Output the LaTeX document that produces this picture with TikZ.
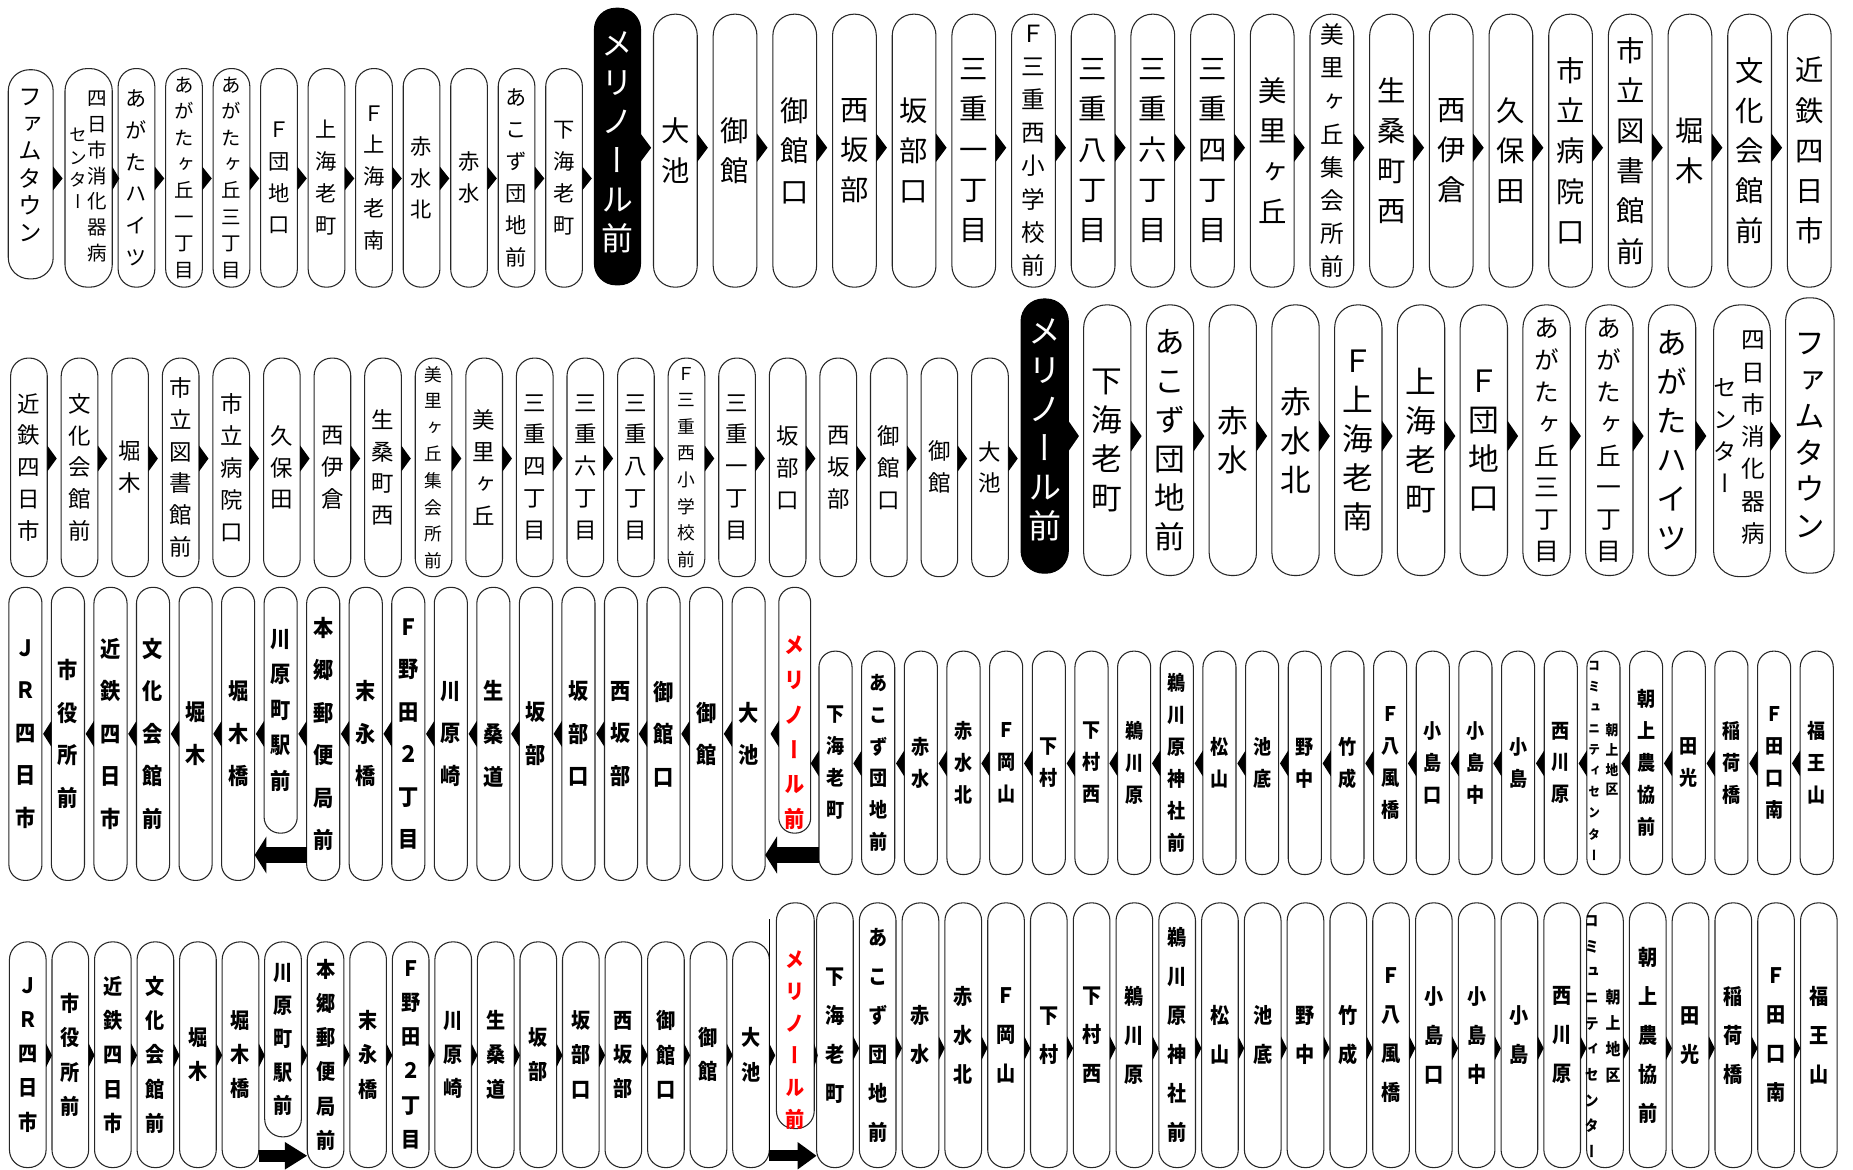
\documentclass[tikz,border=0pt]{standalone}
\usepackage{fontspec}
\usetikzlibrary{arrows.meta}
\newfontfamily\jp[RawFeature=+vert]{Noto Sans CJK JP}
\newfontfamily\jpb[RawFeature=+vert,FakeStretch=0.9]{Noto Sans CJK JP}
\makeatletter
\newcommand\VTT[1]{\vbox{\lineskiplimit=-1000pt\lineskip=0pt\@tfor\VT@c:=#1\do{\hbox to 0pt{\hss\VT@c\hss}}}}
\newcommand\VT[1]{\begingroup\edef\VTtmp{\endgroup\noexpand\VTT{#1}}\VTtmp}
\makeatother
\newcommand\TriR[4]{\fill (#1.east |- #2) ++(0,-#4) -- ++(#3,#4) -- ++(-#3,#4) -- cycle;}
\newcommand\TriL[4]{\fill (#1.west |- #2) ++(0,-#4) -- ++(-#3,#4) -- ++(#3,#4) -- cycle;}
\tikzset{
 stop/.style={draw=black!85,line width=0.9pt,fill=white,inner sep=0pt,outer sep=0pt},
 blk/.style={stop,fill=black,draw=black,text=white},
 txt/.style={inner sep=0pt,anchor=north},
 n/.style={},
 a1/.style={stop,minimum width=31pt,minimum height=185pt,rounded corners=15pt,font=\jp\fontsize{18}{27}\selectfont},
 s8c/.style={font=\jp\fontsize{16.5}{22.3}\selectfont},
 c1/.style={stop,minimum width=37pt,minimum height=231pt,rounded corners=18pt,font=\jp\fontsize{24}{34}\selectfont},
 s8a/.style={font=\jp\fontsize{20}{28}\selectfont},
 a2/.style={stop,minimum width=31pt,minimum height=185pt,rounded corners=15pt,font=\jp\fontsize{19}{27}\selectfont},
 s8b/.style={font=\jp\fontsize{15}{22.5}\selectfont},
 c2/.style={stop,minimum width=40pt,minimum height=229pt,rounded corners=19pt,font=\jp\fontsize{26}{33}\selectfont},
 s8d/.style={font=\jp\fontsize{21}{27}\selectfont},
 a3/.style={stop,minimum width=28pt,minimum height=248pt,rounded corners=13.5pt,font=\jpb\bfseries\fontsize{19}{36}\selectfont},
 k3/.style={minimum height=208pt,yshift=20pt,font=\jpb\bfseries\fontsize{19}{30}\selectfont},
 c3/.style={stop,minimum width=28pt,minimum height=189pt,rounded corners=13.5pt,font=\jpb\bfseries\fontsize{17}{27}\selectfont},
 a4/.style={stop,minimum width=31pt,minimum height=191pt,rounded corners=15pt,font=\jpb\bfseries\fontsize{18}{29}\selectfont},
 k4/.style={minimum height=165pt,yshift=13pt,font=\jpb\bfseries\fontsize{18}{28}\selectfont},
 c4/.style={stop,minimum width=31pt,minimum height=224pt,rounded corners=15pt,font=\jpb\bfseries\fontsize{18}{33}\selectfont},
}
\begin{document}
\begin{tikzpicture}[x=1pt,y=-1pt]
\useasboundingbox (0,0) rectangle (1568,990);
\fill[white] (0,0) rectangle (1568,990);
\coordinate (y1l) at (0,151);
\coordinate (y1r) at (0,125);
\coordinate (y2l) at (0,388);
\coordinate (y2r) at (0,369);
\coordinate (y3l) at (0,621);
\coordinate (y3r) at (0,646);
\coordinate (y4l) at (0,893);
\coordinate (y4r) at (0,887);
\coordinate (y3f) at (0,723.5);
\coordinate (y4f) at (0,978);
\coordinate (y4v) at (0,778);

% ---------- Row 1 ----------
\node[stop,minimum width=38pt,minimum height=177pt,rounded corners=18pt] (r1n1) at (26,147.5) {};
\node[inner sep=0pt,font=\jp\fontsize{20}{23}\selectfont] (r1n1t) at (26,140) {\VT{ファムタウン}};
\node[stop,minimum width=40pt,minimum height=185pt,rounded corners=19pt] (r1n2) at (75,150.5) {};
\node[txt,font=\jp\fontsize{16.5}{21.8}\selectfont] (r1n2r) at (82,77) {\VT{四日市消化器病}};
\node[txt,font=\jp\fontsize{15}{18.7}\selectfont] (r1n2l) at (66,108.5) {\VT{センター}};
\foreach \tx/\o [count=\i] in {あがたハイツ/n,あがたヶ丘一丁目/s8c,あがたヶ丘三丁目/s8c,Ｆ団地口/n,上海老町/n,Ｆ上海老南/n,赤水北/n,赤水/n,あこず団地前/n,下海老町/n}
  \node[a1,\o] (r1a\i) at ({115.5+40.2*(\i-1)},150.5) {\VT{\tx}};
\node[blk,minimum width=39pt,minimum height=234pt,rounded corners=18pt] (r1b) at (522.5,124) {};
\node[inner sep=0pt,text=white,font=\jp\fontsize{27}{33}\selectfont] (r1bt) at (522.5,120) {\VT{メリノール前}};
\foreach \tx/\o [count=\i] in {大池/n,御館/n,御館口/n,西坂部/n,坂部口/n,三重一丁目/n,Ｆ三重西小学校前/s8a,三重八丁目/n,三重六丁目/n,三重四丁目/n,美里ヶ丘/n,美里ヶ丘集会所前/s8a,生桑町西/n,西伊倉/n,久保田/n,市立病院口/n,市立図書館前/n,堀木/n,文化会館前/n,近鉄四日市/n}
  \node[c1,\o] (r1c\i) at ({571.5+50.5*(\i-1)},127.5) {\VT{\tx}};

% ---------- Row 2 ----------
\foreach \tx/\o [count=\i] in {近鉄四日市/n,文化会館前/n,堀木/n,市立図書館前/n,市立病院口/n,久保田/n,西伊倉/n,生桑町西/n,美里ヶ丘集会所前/s8b,美里ヶ丘/n,三重四丁目/n,三重六丁目/n,三重八丁目/n,Ｆ三重西小学校前/s8b,三重一丁目/n,坂部口/n,西坂部/n,御館口/n,御館/n,大池/n}
  \node[a2,\o] (r2a\i) at ({24.5+42.8*(\i-1)},395.5) {\VT{\tx}};
\node[blk,minimum width=40pt,minimum height=232pt,rounded corners=19pt] (r2b) at (884,369) {};
\node[inner sep=0pt,text=white,font=\jp\fontsize{28}{33}\selectfont] (r2bt) at (884,364) {\VT{メリノール前}};
\foreach \tx/\o [count=\i] in {下海老町/n,あこず団地前/n,赤水/n,赤水北/n,Ｆ上海老南/n,上海老町/n,Ｆ団地口/n,あがたヶ丘三丁目/s8d,あがたヶ丘一丁目/s8d,あがたハイツ/n}
  \node[c2,\o] (r2c\i) at ({937+53.1*(\i-1)},372.5) {\VT{\tx}};
\node[stop,minimum width=48pt,minimum height=230pt,rounded corners=22pt] (r2n1) at (1474,373) {};
\node[txt,font=\jp\fontsize{20}{27.3}\selectfont] (r2n1r) at (1484,280) {\VT{四日市消化器病}};
\node[txt,font=\jp\fontsize{20}{27}\selectfont] (r2n1l) at (1460,320) {\VT{センター}};
\node[stop,minimum width=41pt,minimum height=233pt,rounded corners=19pt,font=\jp\fontsize{26}{31}\selectfont] (r2n2) at (1531.5,368.5) {\VT{ファムタウン}};

% ---------- Row 3 ----------
\foreach \tx/\o [count=\i] in {ＪＲ四日市/n,市役所前/n,近鉄四日市/n,文化会館前/n,堀木/n,堀木橋/n,川原町駅前/k3,本郷郵便局前/n,末永橋/n,Ｆ野田２丁目/n,川原崎/n,生桑道/n,坂部/n,坂部口/n,西坂部/n,御館口/n,御館/n,大池/n}
  \node[a3,\o] (r3a\i) at ({21.5+36*(\i-1)},621) {\VT{\tx}};
\node[stop,minimum width=27pt,minimum height=208pt,rounded corners=13pt] (r3m) at (672.5,601) {};
\node[inner sep=0pt,text=red,font=\jpb\bfseries\fontsize{19}{29.6}\selectfont] (r3mt) at (672.5,620) {\VT{メリノール前}};
\foreach \tx/\o [count=\i] in {下海老町/n,あこず団地前/n,赤水/n,赤水北/n,Ｆ岡山/n,下村/n,下村西/n,鵜川原/n,鵜川原神社前/n,松山/n,池底/n,野中/n,竹成/n,Ｆ八風橋/n,小島口/n,小島中/n,小島/n,西川原/n,{}/n,朝上農協前/n,田光/n,稲荷橋/n,Ｆ田口南/n,福王山/n}
  \node[c3,\o] (r3c\i) at ({707+36.1*(\i-1)},645.5) {\VT{\tx}};
\node[txt,font=\jpb\bfseries\fontsize{11}{17.8}\selectfont] (r3cl) at (1349,559.5) {\VT{コミュニティセンター}};
\node[txt,font=\jpb\bfseries\fontsize{12}{16.7}\selectfont] (r3cr) at (1364,612) {\VT{朝上地区}};

% ---------- Row 4 ----------
\foreach \tx/\o [count=\i] in {ＪＲ四日市/n,市役所前/n,近鉄四日市/n,文化会館前/n,堀木/n,堀木橋/n,川原町駅前/k4,本郷郵便局前/n,末永橋/n,Ｆ野田２丁目/n,川原崎/n,生桑道/n,坂部/n,坂部口/n,西坂部/n,御館口/n,御館/n,大池/n}
  \node[a4,\o] (r4a\i) at ({23.5+36*(\i-1)},892.5) {\VT{\tx}};
\node[stop,minimum width=32pt,minimum height=191pt,rounded corners=15pt] (r4m) at (673,859.5) {};
\node[inner sep=0pt,text=red,font=\jpb\bfseries\fontsize{18}{27}\selectfont] (r4mt) at (673,880) {\VT{メリノール前}};
\foreach \tx/\o [count=\i] in {下海老町/n,あこず団地前/n,赤水/n,赤水北/n,Ｆ岡山/n,下村/n,下村西/n,鵜川原/n,鵜川原神社前/n,松山/n,池底/n,野中/n,竹成/n,Ｆ八風橋/n,小島口/n,小島中/n,小島/n,西川原/n,{}/n,朝上農協前/n,田光/n,稲荷橋/n,Ｆ田口南/n,福王山/n}
  \node[c4,\o] (r4c\i) at ({706.5+36.2*(\i-1)},876) {\VT{\tx}};
\node[txt,font=\jpb\bfseries\fontsize{13}{21.7}\selectfont] (r4cl) at (1347,774.5) {\VT{コミュニティセンター}};
\node[txt,font=\jpb\bfseries\fontsize{14}{22}\selectfont] (r4cr) at (1365,837) {\VT{朝上地区}};

% ---------- small triangles ----------
\TriR{r1n1}{y1l}{8}{10}
\TriR{r1n2}{y1l}{6}{10}
\foreach \i in {1,...,10} {\TriR{r1a\i}{y1l}{8}{10}}
\TriR{r1b}{y1r}{9}{12}
\foreach \i in {1,...,19} {\TriR{r1c\i}{y1r}{9}{12}}

\foreach \i in {1,...,20} {\TriR{r2a\i}{y2l}{8}{11}}
\TriR{r2b}{y2r}{9}{13}
\foreach \i in {1,...,10} {\TriR{r2c\i}{y2r}{9}{13}}
\TriR{r2n1}{y2r}{9}{13}

\foreach \i in {2,...,18} {\TriL{r3a\i}{y3l}{7}{11}}
\TriL{r3m}{y3l}{7}{11}
\foreach \i in {1,...,24} {\TriL{r3c\i}{y3r}{7}{11}}

\foreach \i in {1,...,18} {\TriR{r4a\i}{y4l}{5}{10}}
\TriR{r4m}{y4l}{3}{10}
\foreach \i in {1,...,23} {\TriR{r4c\i}{y4r}{5}{10}}

% ---------- fat arrows ----------
\draw[line width=13pt,-{Triangle[length=10pt,width=31pt]}] (r3a8.west |- y3f) -- (r3a6.east |- y3f);
\draw[line width=13pt,-{Triangle[length=10pt,width=31pt]}] (r3c1.west |- y3f) -- (r3a18.east |- y3f);
\draw[line width=10pt,-{Triangle[length=19pt,width=22pt]}] (r4a6.east |- y4f) -- (r4a8.west |- y4f);
\draw[line width=1.2pt] (r4a18.east |- y4v) -- (r4a18.east |- y4f);
\draw[line width=9pt,-{Triangle[length=16pt,width=22pt]}] (r4a18.east |- y4f) -- (r4c1.west |- y4f);
\end{tikzpicture}
\end{document}
